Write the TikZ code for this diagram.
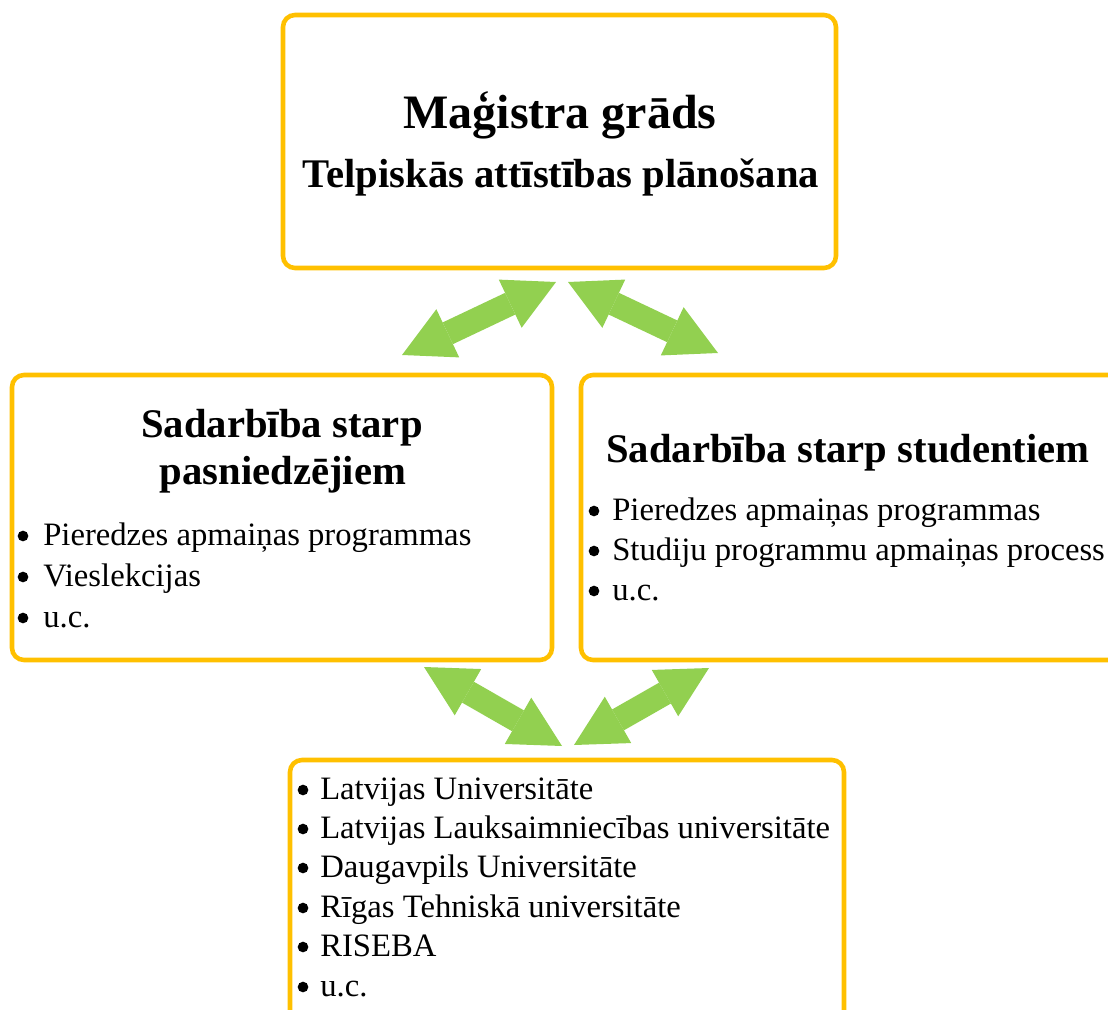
\documentclass[tikz,border=0pt]{standalone}
\usepackage{fontspec}
\setmainfont{Liberation Serif}
\usetikzlibrary{arrows.meta}
\definecolor{gold}{HTML}{FFC000}
\definecolor{leaf}{HTML}{92D050}
\tikzset{
  box/.style={draw=gold, line width=3.4pt, rounded corners=9pt, inner sep=0pt, outer sep=0pt},
  dbl/.style={draw=leaf, line width=18pt,
    {Triangle[length=38pt,width=40pt,line width=0pt]}-{Triangle[length=38pt,width=40pt,line width=0pt]}},
  title/.style={font=\bfseries\fontsize{36}{40}\selectfont, anchor=base, inner sep=0pt},
  head/.style={font=\bfseries\fontsize{30.5}{34}\selectfont, anchor=base, inner sep=0pt},
  item/.style={font=\fontsize{24.5}{29}\selectfont, anchor=base west, inner sep=0pt},
  dot/.style={circle, fill=black, inner sep=0pt, minimum size=8pt},
}
\begin{document}
\begin{tikzpicture}[x=0.75pt, y=-0.75pt]
\useasboundingbox (0,0) rectangle (1108,1010);
\clip (0,0) rectangle (1108,1010);
% boxes
\node[box, minimum width=414.75pt, minimum height=189.75pt] (top) at (559.5,141.5) {};
\node[box, minimum width=405pt, minimum height=213.75pt] (left) at (282,517.5) {};
\node[box, minimum width=404.25pt, minimum height=213.75pt] (right) at (850.5,517.5) {};
\node[box, minimum width=415.5pt, minimum height=198.75pt] (bottom) at (567,892.5) {};
% top text
\node[title] (t1) at (560,128) {Maģistra grāds};
\node[head] (t2) at (561,187) {Telpiskās attīstības plānošana};
% left box
\node[head] (lh1) at (282,437) {Sadarbība starp};
\node[head] (lh2) at (283,484) {pasniedzējiem};
\node[dot] (lb1) at (23,536) {}; \node[item] (li1) at (43,545) {Pieredzes apmaiņas programmas};
\node[dot] (lb2) at (23,577) {}; \node[item] (li2) at (43,586) {Vieslekcijas};
\node[dot] (lb3) at (23,618) {}; \node[item] (li3) at (43,627) {u.c.};
% right box
\node[head] (rh1) at (848,462) {Sadarbība starp studentiem};
\node[dot] (rb1) at (594,511) {}; \node[item] (ri1) at (612,520) {Pieredzes apmaiņas programmas};
\node[dot] (rb2) at (594,551) {}; \node[item] (ri2) at (612,560) {Studiju programmu apmaiņas process};
\node[dot] (rb3) at (594,591) {}; \node[item] (ri3) at (612,600) {u.c.};
% bottom box
\node[dot] (bb1) at (303,790) {}; \node[item] (bi1) at (320,799) {Latvijas Universitāte};
\node[dot] (bb2) at (303,829) {}; \node[item] (bi2) at (320,838) {Latvijas Lauksaimniecības universitāte};
\node[dot] (bb3) at (303,868) {}; \node[item] (bi3) at (320,877) {Daugavpils Universitāte};
\node[dot] (bb4) at (303,908) {}; \node[item] (bi4) at (320,917) {Rīgas Tehniskā universitāte};
\node[dot] (bb5) at (303,947) {}; \node[item] (bi5) at (320,956) {RISEBA};
\node[dot] (bb6) at (303,987) {}; \node[item] (bi6) at (320,996) {u.c.};
% arrow end points
\coordinate (a1s) at (402,355); \coordinate (a1e) at (556,282);
\coordinate (a2s) at (568,282); \coordinate (a2e) at (718,353);
\coordinate (a3s) at (424,667); \coordinate (a3e) at (562,746);
\coordinate (a4s) at (574,745); \coordinate (a4e) at (709,668);
\draw[dbl] (a1s) -- (a1e);
\draw[dbl] (a2s) -- (a2e);
\draw[dbl] (a3s) -- (a3e);
\draw[dbl] (a4s) -- (a4e);
\end{tikzpicture}
\end{document}
